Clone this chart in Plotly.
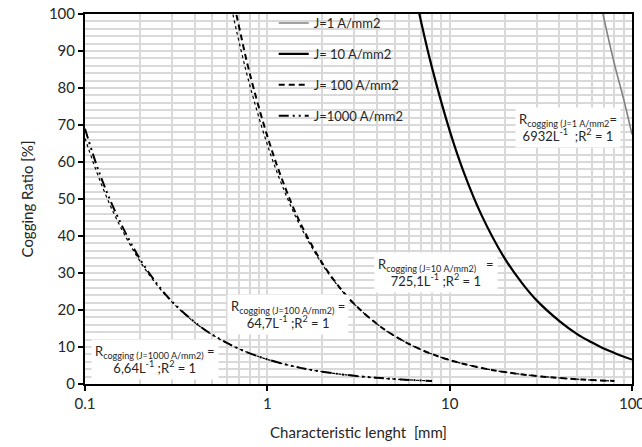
import plotly.graph_objects as go

# ---------------- data ----------------
L_j1 = [60, 65, 70, 80, 90, 100]
R_j1 = [115.5, 106.6, 99.0, 86.6, 77.0, 67.5]

L_j10 = [6.0, 6.5, 7, 8, 10, 12, 15, 20, 25, 30, 40, 50, 60, 70, 80, 100]
R_j10 = [114.0, 105.0, 97.5, 85.5, 68.5, 57.0, 45.5, 34.0, 27.2, 22.6, 17.0, 13.5, 11.3, 9.6, 8.4, 6.6]

L_j100 = [0.6, 0.65, 0.7, 0.8, 1, 1.2, 1.5, 2, 2.5, 3, 4, 5, 7, 10, 15, 20, 30, 40, 50, 60, 80]
R_j100 = [113.0, 104.0, 96.5, 84.0, 67.0, 55.5, 44.0, 32.7, 26.0, 21.6, 16.2, 12.95, 9.25, 6.47, 4.31, 3.24, 2.16, 1.62, 1.29, 1.08, 0.81]

L_j1000 = [0.1, 0.12, 0.15, 0.2, 0.25, 0.3, 0.4, 0.5, 0.7, 1, 1.5, 2, 3, 4, 5, 6, 8]
R_j1000 = [69.0, 57.0, 45.5, 33.8, 26.9, 22.3, 16.7, 13.3, 9.5, 6.65, 4.43, 3.32, 2.21, 1.66, 1.33, 1.11, 0.83]

# trend-line coefficients shown in the labels (R = a * L^-1)
A_j100 = 64.7
A_j1000 = 6.64

names = ["J=1 A/mm2", "J= 10 A/mm2", "J= 100 A/mm2", "J=1000 A/mm2"]

x_ticks = [0.1, 1, 10, 100]
x_ticktext = ["0.1", "1", "10", "100"]
x_minor = [0.2, 0.3, 0.4, 0.5, 0.6, 0.7, 0.8, 0.9,
           2, 3, 4, 5, 6, 7, 8, 9,
           20, 30, 40, 50, 60, 70, 80, 90]

FONT = "Lato, Carlito, Calibri, sans-serif"
TXT = "#262626"

fig = go.Figure()

# trend lines (dotted)
fig.add_trace(go.Scatter(x=L_j100, y=[A_j100 / v for v in L_j100], mode="lines",
                         line=dict(color="black", width=1.2, dash="dot", shape="spline"),
                         showlegend=False, hoverinfo="skip"))
fig.add_trace(go.Scatter(x=L_j1000, y=[A_j1000 / v for v in L_j1000], mode="lines",
                         line=dict(color="black", width=1.2, dash="dot", shape="spline"),
                         showlegend=False, hoverinfo="skip"))

fig.add_trace(go.Scatter(x=L_j1, y=R_j1, mode="lines", name=names[0],
                         line=dict(color="#808080", width=1.6, shape="spline"), legendgroup="a"))
fig.add_trace(go.Scatter(x=L_j10, y=R_j10, mode="lines", name=names[1],
                         line=dict(color="black", width=2.2, shape="spline"), legendgroup="b"))
fig.add_trace(go.Scatter(x=L_j100, y=R_j100, mode="lines", name=names[2],
                         line=dict(color="black", width=2, dash="6px,4px", shape="spline"),
                         legendgroup="c"))
fig.add_trace(go.Scatter(x=L_j1000, y=R_j1000, mode="lines", name=names[3],
                         line=dict(color="black", width=2, dash="10px,4px,2px,4px,2px,4px",
                                   shape="spline"),
                         legendgroup="d"))

# white background behind legend
fig.add_shape(type="rect", xref="x domain", yref="y domain",
              x0=0.34, x1=0.613, y0=0.686, y1=1.0,
              fillcolor="white", line=dict(width=0), layer="below")

ann_common = dict(xref="paper", yref="paper", showarrow=False, bgcolor="white",
                  font=dict(family=FONT, size=13, color=TXT), borderpad=3, align="center")

labels = [
    ("R<sub>cogging (J=1 A/mm2</sub>=<br>6932L<sup>-1</sup>  ;R<sup>2</sup> = 1", 568, 128),
    ("R<sub>cogging (J=10 A/mm2)</sub>   =<br>725,1L<sup>-1</sup> ;R<sup>2</sup> = 1", 436, 272),
    ("R<sub>cogging (J=100 A/mm2)</sub> =<br>64,7L<sup>-1</sup> ;R<sup>2</sup> = 1", 288, 314),
    ("R<sub>cogging (J=1000 A/mm2)</sub> =<br>6,64L<sup>-1</sup> ;R<sup>2</sup> = 1", 155, 359),
]
PL, PR, PT, PB = 85, 632, 14, 384
for text, px, py in labels:
    fig.add_annotation(text=text,
                       x=(px - PL) / (PR - PL), y=(PB - py) / (PB - PT),
                       xanchor="center", yanchor="middle", **ann_common)

grid = "#d9d9d9"
fig.update_layout(
    width=642, height=447,
    margin=dict(l=PL, r=642 - PR, t=PT, b=447 - PB, autoexpand=False),
    paper_bgcolor="white", plot_bgcolor="white",
    font=dict(family=FONT, size=13, color=TXT),
    legend=dict(x=0.345, y=1.016, xanchor="left", yanchor="top",
                bgcolor="rgba(255,255,255,0)", borderwidth=0,
                itemwidth=30, tracegroupgap=11, traceorder="grouped",
                font=dict(family=FONT, size=13, color=TXT)),
    xaxis=dict(type="log", range=[-1, 2], tickmode="array",
               tickvals=x_ticks, ticktext=x_ticktext, ticklabeloverflow="allow",
               showgrid=True, gridcolor=grid, gridwidth=1.5,
               minor=dict(tickmode="array", tickvals=x_minor, showgrid=True,
                          gridcolor=grid, gridwidth=1.5, ticks=""),
               showline=True, linecolor="black", linewidth=2, mirror=True,
               ticks="outside", ticklen=5, tickwidth=1.5, tickcolor="black",
               title=dict(text="Characteristic lenght  [mm]", standoff=16,
                          font=dict(family=FONT, size=15, color=TXT)),
               tickfont=dict(family=FONT, size=15, color=TXT), zeroline=False),
    yaxis=dict(range=[0, 100], tickmode="linear", tick0=0, dtick=10,
               showgrid=True, gridcolor=grid, gridwidth=1.5,
               minor=dict(dtick=2, showgrid=True, gridcolor=grid, gridwidth=1.5, ticks=""),
               showline=True, linecolor="black", linewidth=2, mirror=True,
               ticks="outside", ticklen=5, tickwidth=1.5, tickcolor="black",
               title=dict(text="Cogging Ratio [%]", standoff=12,
                          font=dict(family=FONT, size=15, color=TXT)),
               tickfont=dict(family=FONT, size=15, color=TXT), zeroline=False),
)

fig.write_html("out.html")
